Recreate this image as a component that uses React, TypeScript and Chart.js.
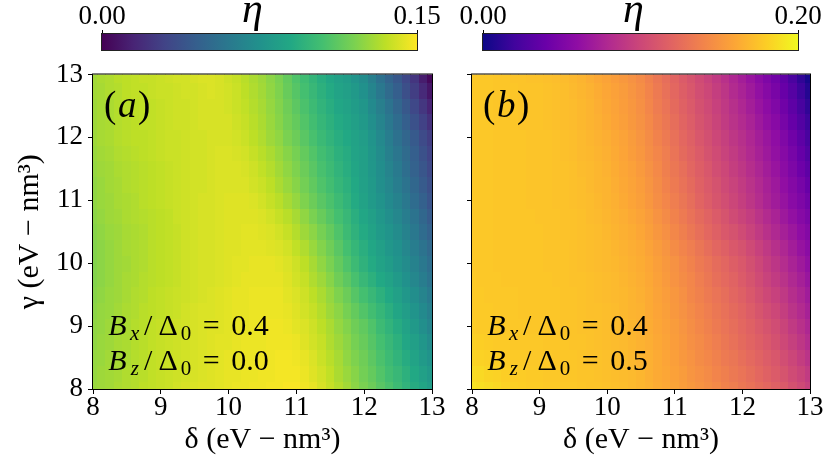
import React, { useEffect, useRef } from "react";
import { Chart, registerables } from "chart.js";

Chart.register(...registerables);

// ---------------- data ----------------
const DELTA = [
  8, 8.125, 8.25, 8.375, 8.5, 8.625, 8.75, 8.875, 9, 9.125, 9.25, 9.375, 9.5, 9.625, 9.75, 9.875,
  10, 10.125, 10.25, 10.375, 10.5, 10.625, 10.75, 10.875, 11, 11.125, 11.25, 11.375, 11.5, 11.625, 11.75, 11.875,
  12, 12.125, 12.25, 12.375, 12.5, 12.625, 12.75, 12.875, 13,
];
const GAMMA = [8, 8.25, 8.5, 8.75, 9, 9.25, 9.5, 9.75, 10, 10.25, 10.5, 10.75, 11, 11.25, 11.5, 11.75, 12, 12.25, 12.5, 12.75, 13];
const AXIS_TICKS = [8, 9, 10, 11, 12, 13];

// eta, panel (a): one row per gamma (8 -> 13), one value per delta (8 -> 13)
const ETA_A = [
  [0.127, 0.128, 0.129, 0.131, 0.132, 0.133, 0.135, 0.136, 0.137, 0.138, 0.140, 0.141, 0.142, 0.143, 0.143, 0.144, 0.145, 0.146, 0.146, 0.147, 0.147, 0.148, 0.148, 0.149, 0.149, 0.147, 0.145, 0.141, 0.137, 0.133, 0.129, 0.124, 0.120, 0.116, 0.111, 0.107, 0.102, 0.097, 0.092, 0.088, 0.083],
  [0.126, 0.128, 0.129, 0.130, 0.132, 0.133, 0.134, 0.136, 0.137, 0.138, 0.139, 0.140, 0.141, 0.142, 0.143, 0.144, 0.145, 0.145, 0.146, 0.146, 0.147, 0.147, 0.148, 0.148, 0.148, 0.146, 0.143, 0.140, 0.136, 0.131, 0.127, 0.123, 0.118, 0.114, 0.109, 0.104, 0.100, 0.095, 0.090, 0.085, 0.080],
  [0.126, 0.127, 0.129, 0.130, 0.131, 0.133, 0.134, 0.136, 0.137, 0.138, 0.139, 0.140, 0.141, 0.142, 0.143, 0.144, 0.145, 0.145, 0.146, 0.146, 0.147, 0.147, 0.148, 0.148, 0.147, 0.145, 0.142, 0.138, 0.134, 0.130, 0.125, 0.121, 0.117, 0.112, 0.107, 0.102, 0.097, 0.092, 0.087, 0.081, 0.076],
  [0.125, 0.127, 0.128, 0.130, 0.131, 0.133, 0.134, 0.136, 0.137, 0.138, 0.139, 0.140, 0.141, 0.142, 0.143, 0.144, 0.144, 0.145, 0.146, 0.146, 0.146, 0.147, 0.147, 0.147, 0.146, 0.143, 0.140, 0.137, 0.132, 0.128, 0.124, 0.119, 0.115, 0.110, 0.105, 0.100, 0.095, 0.089, 0.084, 0.078, 0.072],
  [0.125, 0.126, 0.128, 0.130, 0.131, 0.133, 0.134, 0.136, 0.137, 0.138, 0.139, 0.140, 0.141, 0.142, 0.143, 0.143, 0.144, 0.145, 0.145, 0.146, 0.146, 0.147, 0.147, 0.146, 0.144, 0.142, 0.139, 0.135, 0.131, 0.126, 0.122, 0.117, 0.113, 0.108, 0.102, 0.097, 0.092, 0.086, 0.080, 0.074, 0.068],
  [0.124, 0.126, 0.127, 0.129, 0.131, 0.132, 0.134, 0.135, 0.136, 0.137, 0.138, 0.140, 0.141, 0.142, 0.142, 0.143, 0.144, 0.145, 0.145, 0.146, 0.146, 0.146, 0.146, 0.145, 0.143, 0.140, 0.137, 0.133, 0.128, 0.124, 0.119, 0.114, 0.109, 0.104, 0.099, 0.094, 0.088, 0.083, 0.077, 0.071, 0.065],
  [0.123, 0.125, 0.127, 0.128, 0.130, 0.132, 0.133, 0.135, 0.136, 0.137, 0.138, 0.139, 0.140, 0.141, 0.142, 0.143, 0.144, 0.145, 0.145, 0.146, 0.146, 0.146, 0.146, 0.144, 0.142, 0.139, 0.135, 0.131, 0.126, 0.121, 0.116, 0.110, 0.105, 0.100, 0.095, 0.090, 0.085, 0.079, 0.073, 0.067, 0.061],
  [0.122, 0.124, 0.126, 0.128, 0.130, 0.131, 0.133, 0.134, 0.135, 0.136, 0.137, 0.139, 0.140, 0.141, 0.141, 0.142, 0.143, 0.144, 0.145, 0.145, 0.145, 0.145, 0.145, 0.143, 0.140, 0.137, 0.132, 0.128, 0.123, 0.117, 0.112, 0.106, 0.100, 0.095, 0.090, 0.086, 0.081, 0.075, 0.069, 0.063, 0.057],
  [0.122, 0.124, 0.126, 0.128, 0.129, 0.131, 0.132, 0.134, 0.135, 0.136, 0.137, 0.139, 0.140, 0.141, 0.141, 0.142, 0.143, 0.144, 0.144, 0.145, 0.145, 0.145, 0.144, 0.142, 0.139, 0.135, 0.130, 0.125, 0.120, 0.114, 0.108, 0.102, 0.096, 0.091, 0.086, 0.082, 0.077, 0.072, 0.066, 0.060, 0.054],
  [0.122, 0.124, 0.126, 0.128, 0.130, 0.131, 0.132, 0.134, 0.135, 0.136, 0.137, 0.139, 0.140, 0.141, 0.141, 0.142, 0.143, 0.143, 0.144, 0.144, 0.144, 0.143, 0.142, 0.140, 0.136, 0.132, 0.127, 0.122, 0.117, 0.111, 0.105, 0.099, 0.094, 0.089, 0.084, 0.079, 0.075, 0.069, 0.063, 0.057, 0.051],
  [0.123, 0.125, 0.127, 0.128, 0.130, 0.131, 0.132, 0.134, 0.135, 0.136, 0.137, 0.139, 0.140, 0.141, 0.141, 0.142, 0.143, 0.143, 0.144, 0.144, 0.143, 0.142, 0.140, 0.137, 0.133, 0.128, 0.124, 0.119, 0.114, 0.108, 0.102, 0.096, 0.091, 0.086, 0.081, 0.077, 0.072, 0.066, 0.060, 0.053, 0.047],
  [0.124, 0.126, 0.128, 0.129, 0.131, 0.132, 0.133, 0.134, 0.135, 0.136, 0.138, 0.139, 0.140, 0.141, 0.141, 0.142, 0.143, 0.143, 0.143, 0.143, 0.142, 0.140, 0.137, 0.134, 0.130, 0.125, 0.120, 0.115, 0.110, 0.105, 0.100, 0.094, 0.089, 0.084, 0.079, 0.074, 0.069, 0.063, 0.057, 0.050, 0.043],
  [0.125, 0.127, 0.128, 0.130, 0.131, 0.132, 0.134, 0.135, 0.136, 0.137, 0.138, 0.139, 0.140, 0.141, 0.141, 0.142, 0.143, 0.143, 0.143, 0.142, 0.140, 0.137, 0.134, 0.130, 0.126, 0.121, 0.116, 0.111, 0.107, 0.102, 0.097, 0.091, 0.086, 0.081, 0.076, 0.071, 0.066, 0.060, 0.053, 0.046, 0.039],
  [0.125, 0.127, 0.129, 0.130, 0.132, 0.133, 0.134, 0.135, 0.136, 0.137, 0.138, 0.139, 0.140, 0.140, 0.141, 0.142, 0.142, 0.142, 0.142, 0.140, 0.138, 0.135, 0.131, 0.127, 0.123, 0.118, 0.113, 0.108, 0.104, 0.099, 0.095, 0.090, 0.085, 0.080, 0.074, 0.069, 0.063, 0.057, 0.050, 0.043, 0.036],
  [0.126, 0.128, 0.129, 0.131, 0.132, 0.133, 0.134, 0.135, 0.136, 0.137, 0.138, 0.139, 0.140, 0.140, 0.141, 0.142, 0.142, 0.142, 0.141, 0.139, 0.136, 0.133, 0.129, 0.125, 0.121, 0.116, 0.111, 0.106, 0.102, 0.097, 0.093, 0.088, 0.084, 0.079, 0.073, 0.067, 0.061, 0.054, 0.047, 0.040, 0.033],
  [0.127, 0.129, 0.130, 0.132, 0.133, 0.134, 0.135, 0.136, 0.137, 0.138, 0.138, 0.139, 0.140, 0.140, 0.141, 0.142, 0.142, 0.141, 0.140, 0.137, 0.134, 0.131, 0.127, 0.123, 0.119, 0.114, 0.109, 0.104, 0.100, 0.095, 0.092, 0.087, 0.084, 0.078, 0.072, 0.065, 0.059, 0.052, 0.045, 0.037, 0.030],
  [0.128, 0.130, 0.131, 0.133, 0.134, 0.135, 0.135, 0.136, 0.137, 0.138, 0.138, 0.139, 0.140, 0.140, 0.141, 0.141, 0.141, 0.140, 0.138, 0.135, 0.132, 0.128, 0.125, 0.120, 0.116, 0.111, 0.106, 0.101, 0.097, 0.093, 0.090, 0.086, 0.083, 0.077, 0.070, 0.063, 0.056, 0.049, 0.042, 0.034, 0.027],
  [0.128, 0.130, 0.131, 0.133, 0.134, 0.135, 0.136, 0.136, 0.137, 0.138, 0.139, 0.139, 0.140, 0.141, 0.141, 0.141, 0.141, 0.139, 0.137, 0.134, 0.131, 0.127, 0.123, 0.118, 0.114, 0.109, 0.104, 0.099, 0.095, 0.091, 0.088, 0.084, 0.080, 0.074, 0.067, 0.060, 0.053, 0.045, 0.037, 0.029, 0.021],
  [0.128, 0.130, 0.131, 0.133, 0.134, 0.135, 0.136, 0.136, 0.137, 0.138, 0.139, 0.139, 0.140, 0.141, 0.141, 0.141, 0.140, 0.138, 0.136, 0.133, 0.130, 0.126, 0.122, 0.117, 0.112, 0.107, 0.102, 0.097, 0.093, 0.089, 0.086, 0.082, 0.078, 0.071, 0.064, 0.057, 0.049, 0.041, 0.032, 0.024, 0.015],
  [0.129, 0.130, 0.132, 0.133, 0.135, 0.136, 0.136, 0.137, 0.138, 0.138, 0.139, 0.140, 0.140, 0.141, 0.142, 0.141, 0.140, 0.138, 0.135, 0.132, 0.129, 0.125, 0.121, 0.115, 0.110, 0.105, 0.100, 0.095, 0.091, 0.087, 0.084, 0.080, 0.075, 0.068, 0.060, 0.052, 0.045, 0.036, 0.027, 0.018, 0.009],
  [0.129, 0.131, 0.132, 0.134, 0.135, 0.136, 0.137, 0.137, 0.138, 0.139, 0.140, 0.140, 0.141, 0.142, 0.142, 0.141, 0.139, 0.137, 0.134, 0.131, 0.128, 0.124, 0.120, 0.114, 0.108, 0.103, 0.098, 0.093, 0.089, 0.085, 0.082, 0.077, 0.072, 0.064, 0.056, 0.048, 0.041, 0.032, 0.023, 0.012, 0.003],
];

// eta, panel (b)
const ETA_B = [
  [0.190, 0.188, 0.186, 0.184, 0.182, 0.181, 0.180, 0.179, 0.179, 0.178, 0.178, 0.177, 0.177, 0.176, 0.175, 0.175, 0.174, 0.173, 0.172, 0.170, 0.168, 0.166, 0.163, 0.161, 0.158, 0.155, 0.152, 0.149, 0.146, 0.143, 0.139, 0.136, 0.132, 0.129, 0.125, 0.122, 0.118, 0.113, 0.107, 0.102, 0.096],
  [0.186, 0.185, 0.183, 0.182, 0.180, 0.179, 0.179, 0.178, 0.178, 0.177, 0.177, 0.176, 0.176, 0.175, 0.175, 0.174, 0.173, 0.172, 0.171, 0.170, 0.168, 0.165, 0.162, 0.160, 0.157, 0.154, 0.150, 0.147, 0.144, 0.140, 0.137, 0.133, 0.130, 0.126, 0.122, 0.118, 0.114, 0.109, 0.103, 0.098, 0.092],
  [0.183, 0.182, 0.181, 0.180, 0.179, 0.178, 0.178, 0.177, 0.177, 0.177, 0.176, 0.176, 0.176, 0.175, 0.174, 0.174, 0.173, 0.172, 0.171, 0.169, 0.167, 0.165, 0.162, 0.159, 0.156, 0.152, 0.149, 0.145, 0.142, 0.138, 0.134, 0.131, 0.127, 0.123, 0.119, 0.115, 0.111, 0.105, 0.099, 0.093, 0.087],
  [0.181, 0.180, 0.179, 0.178, 0.178, 0.177, 0.177, 0.177, 0.177, 0.176, 0.176, 0.176, 0.175, 0.175, 0.174, 0.173, 0.172, 0.171, 0.170, 0.168, 0.166, 0.164, 0.161, 0.158, 0.155, 0.151, 0.147, 0.144, 0.140, 0.136, 0.132, 0.128, 0.124, 0.120, 0.116, 0.112, 0.107, 0.101, 0.095, 0.089, 0.082],
  [0.179, 0.178, 0.178, 0.177, 0.177, 0.177, 0.177, 0.176, 0.176, 0.176, 0.176, 0.175, 0.175, 0.174, 0.174, 0.173, 0.172, 0.171, 0.170, 0.168, 0.166, 0.163, 0.160, 0.157, 0.154, 0.150, 0.146, 0.142, 0.138, 0.134, 0.130, 0.126, 0.122, 0.118, 0.113, 0.109, 0.104, 0.098, 0.091, 0.085, 0.078],
  [0.178, 0.178, 0.178, 0.177, 0.177, 0.177, 0.176, 0.176, 0.176, 0.176, 0.176, 0.175, 0.175, 0.174, 0.173, 0.173, 0.172, 0.171, 0.169, 0.167, 0.166, 0.162, 0.159, 0.156, 0.152, 0.148, 0.144, 0.140, 0.136, 0.132, 0.128, 0.124, 0.120, 0.115, 0.110, 0.105, 0.100, 0.094, 0.087, 0.081, 0.074],
  [0.178, 0.178, 0.177, 0.177, 0.177, 0.177, 0.176, 0.176, 0.176, 0.176, 0.176, 0.175, 0.175, 0.174, 0.173, 0.172, 0.171, 0.170, 0.169, 0.167, 0.165, 0.162, 0.158, 0.155, 0.151, 0.147, 0.142, 0.138, 0.134, 0.130, 0.126, 0.121, 0.117, 0.112, 0.106, 0.101, 0.096, 0.090, 0.083, 0.077, 0.070],
  [0.178, 0.177, 0.177, 0.177, 0.176, 0.176, 0.176, 0.176, 0.176, 0.176, 0.175, 0.175, 0.174, 0.174, 0.173, 0.172, 0.171, 0.170, 0.168, 0.166, 0.164, 0.161, 0.157, 0.153, 0.149, 0.145, 0.141, 0.136, 0.132, 0.127, 0.123, 0.119, 0.114, 0.109, 0.103, 0.097, 0.092, 0.086, 0.079, 0.073, 0.066],
  [0.177, 0.177, 0.177, 0.176, 0.176, 0.176, 0.176, 0.176, 0.176, 0.175, 0.175, 0.175, 0.174, 0.173, 0.172, 0.171, 0.170, 0.169, 0.167, 0.165, 0.163, 0.160, 0.156, 0.152, 0.148, 0.143, 0.139, 0.134, 0.130, 0.125, 0.121, 0.116, 0.112, 0.106, 0.100, 0.094, 0.088, 0.082, 0.075, 0.069, 0.062],
  [0.177, 0.177, 0.177, 0.176, 0.176, 0.176, 0.176, 0.176, 0.176, 0.175, 0.175, 0.175, 0.174, 0.173, 0.172, 0.171, 0.170, 0.168, 0.166, 0.164, 0.162, 0.158, 0.154, 0.150, 0.145, 0.140, 0.136, 0.131, 0.126, 0.121, 0.117, 0.112, 0.108, 0.102, 0.096, 0.090, 0.084, 0.078, 0.071, 0.064, 0.058],
  [0.177, 0.177, 0.177, 0.176, 0.176, 0.176, 0.176, 0.176, 0.176, 0.175, 0.175, 0.174, 0.174, 0.173, 0.172, 0.171, 0.169, 0.167, 0.165, 0.163, 0.160, 0.156, 0.151, 0.147, 0.142, 0.137, 0.132, 0.127, 0.122, 0.117, 0.112, 0.108, 0.103, 0.097, 0.091, 0.085, 0.079, 0.073, 0.067, 0.060, 0.054],
  [0.177, 0.177, 0.177, 0.176, 0.176, 0.176, 0.176, 0.176, 0.175, 0.175, 0.175, 0.174, 0.174, 0.173, 0.171, 0.170, 0.168, 0.166, 0.164, 0.161, 0.158, 0.154, 0.149, 0.144, 0.139, 0.134, 0.129, 0.124, 0.119, 0.114, 0.109, 0.103, 0.098, 0.093, 0.087, 0.081, 0.075, 0.068, 0.062, 0.055, 0.049],
  [0.177, 0.177, 0.177, 0.176, 0.176, 0.176, 0.176, 0.175, 0.175, 0.175, 0.174, 0.174, 0.173, 0.172, 0.171, 0.169, 0.167, 0.165, 0.162, 0.159, 0.156, 0.151, 0.146, 0.141, 0.136, 0.131, 0.126, 0.120, 0.115, 0.110, 0.105, 0.099, 0.094, 0.088, 0.082, 0.076, 0.070, 0.064, 0.057, 0.051, 0.044],
  [0.177, 0.177, 0.177, 0.176, 0.176, 0.176, 0.176, 0.175, 0.175, 0.175, 0.174, 0.174, 0.173, 0.172, 0.170, 0.168, 0.167, 0.164, 0.161, 0.158, 0.155, 0.150, 0.145, 0.139, 0.134, 0.129, 0.124, 0.118, 0.113, 0.108, 0.102, 0.097, 0.092, 0.086, 0.080, 0.074, 0.068, 0.061, 0.054, 0.047, 0.039],
  [0.177, 0.177, 0.177, 0.176, 0.176, 0.176, 0.176, 0.175, 0.175, 0.175, 0.174, 0.174, 0.173, 0.171, 0.170, 0.168, 0.166, 0.163, 0.160, 0.157, 0.153, 0.148, 0.143, 0.137, 0.132, 0.127, 0.121, 0.116, 0.111, 0.105, 0.100, 0.094, 0.089, 0.083, 0.077, 0.071, 0.065, 0.058, 0.050, 0.042, 0.034],
  [0.177, 0.177, 0.177, 0.176, 0.176, 0.176, 0.176, 0.175, 0.175, 0.175, 0.174, 0.173, 0.172, 0.170, 0.169, 0.167, 0.165, 0.162, 0.159, 0.155, 0.151, 0.146, 0.141, 0.136, 0.130, 0.124, 0.119, 0.114, 0.108, 0.103, 0.097, 0.092, 0.086, 0.080, 0.074, 0.068, 0.062, 0.055, 0.047, 0.038, 0.029],
  [0.177, 0.177, 0.177, 0.176, 0.176, 0.176, 0.176, 0.175, 0.175, 0.175, 0.174, 0.173, 0.172, 0.170, 0.168, 0.166, 0.164, 0.161, 0.158, 0.154, 0.150, 0.145, 0.139, 0.134, 0.128, 0.122, 0.117, 0.111, 0.106, 0.100, 0.095, 0.089, 0.084, 0.078, 0.072, 0.066, 0.060, 0.052, 0.043, 0.034, 0.024],
  [0.177, 0.177, 0.177, 0.176, 0.176, 0.176, 0.175, 0.175, 0.175, 0.174, 0.173, 0.172, 0.171, 0.169, 0.167, 0.165, 0.162, 0.159, 0.156, 0.152, 0.148, 0.143, 0.137, 0.132, 0.126, 0.120, 0.115, 0.109, 0.104, 0.098, 0.092, 0.086, 0.081, 0.075, 0.068, 0.062, 0.056, 0.047, 0.038, 0.029, 0.019],
  [0.177, 0.177, 0.177, 0.176, 0.176, 0.176, 0.175, 0.175, 0.175, 0.174, 0.173, 0.172, 0.171, 0.169, 0.167, 0.164, 0.161, 0.158, 0.155, 0.151, 0.147, 0.141, 0.135, 0.130, 0.124, 0.118, 0.113, 0.107, 0.102, 0.096, 0.090, 0.084, 0.078, 0.072, 0.065, 0.059, 0.052, 0.043, 0.034, 0.024, 0.014],
  [0.177, 0.177, 0.177, 0.176, 0.176, 0.176, 0.175, 0.175, 0.175, 0.174, 0.173, 0.172, 0.170, 0.168, 0.166, 0.163, 0.160, 0.157, 0.154, 0.150, 0.146, 0.140, 0.134, 0.128, 0.122, 0.116, 0.111, 0.105, 0.100, 0.094, 0.088, 0.081, 0.075, 0.069, 0.062, 0.055, 0.048, 0.039, 0.030, 0.019, 0.009],
  [0.177, 0.177, 0.177, 0.176, 0.176, 0.175, 0.175, 0.174, 0.174, 0.173, 0.172, 0.171, 0.169, 0.167, 0.164, 0.161, 0.158, 0.155, 0.152, 0.148, 0.144, 0.138, 0.132, 0.126, 0.120, 0.114, 0.109, 0.103, 0.097, 0.091, 0.085, 0.078, 0.072, 0.065, 0.058, 0.051, 0.044, 0.035, 0.025, 0.014, 0.004],
];

const ETA_RANGE_A = [0, 0.15];
const ETA_RANGE_B = [0, 0.2];
const PANEL_NAMES = ["a", "b"];
const BX_VALUES = [0.4, 0.4];
const BZ_VALUES = [0.0, 0.5];

// ---------------- styles ----------------
const SERIF = '"Liberation Serif", "DejaVu Serif", serif';
const VIRIDIS = ["#440154", "#482475", "#414487", "#355f8d", "#2a788e", "#21918c", "#22a884", "#44bf70", "#7ad151", "#bddf26", "#fde725"];
const PLASMA = ["#0d0887", "#41049d", "#6a00a8", "#8f0da4", "#b12a90", "#cc4778", "#e16462", "#f2844b", "#fca636", "#fcce25", "#f0f921"];

function hexRgb(h: string) {
  return [parseInt(h.slice(1, 3), 16), parseInt(h.slice(3, 5), 16), parseInt(h.slice(5, 7), 16)];
}
function colormap(stops: string[], t: number) {
  const tt = Math.max(0, Math.min(1, t));
  const n = stops.length - 1;
  const f = tt * n;
  const i = Math.min(Math.floor(f), n - 1);
  const u = f - i;
  const a = hexRgb(stops[i]);
  const b = hexRgb(stops[i + 1]);
  const c = a.map((v, k) => Math.round(v + (b[k] - v) * u));
  return `rgb(${c[0]},${c[1]},${c[2]})`;
}

function cellBounds(vals: number[], lo: number, hi: number) {
  return vals.map((v, i) => [
    i === 0 ? lo : (vals[i - 1] + v) / 2,
    i === vals.length - 1 ? hi : (v + vals[i + 1]) / 2,
  ]);
}

function buildPoints(grid: number[][]) {
  const lo = AXIS_TICKS[0];
  const hi = AXIS_TICKS[AXIS_TICKS.length - 1];
  const xb = cellBounds(DELTA, lo, hi);
  const yb = cellBounds(GAMMA, lo, hi);
  const pts: any[] = [];
  GAMMA.forEach((g, j) => {
    DELTA.forEach((d, i) => {
      pts.push({ x: d, y: g, v: grid[j][i], x0: xb[i][0], x1: xb[i][1], y0: yb[j][0], y1: yb[j][1] });
    });
  });
  return pts;
}

type Run = { t?: string; it?: boolean; sub?: boolean; adv?: number; gap?: number };
function drawRuns(ctx: CanvasRenderingContext2D, x: number, y: number, runs: Run[], size: number) {
  let cx = x;
  for (const r of runs) {
    if (!r.t) {
      cx += (r.gap || 0) * size;
      continue;
    }
    const s = r.sub ? size * 0.7 : size;
    ctx.font = `${r.it ? "italic " : ""}${s}px ${SERIF}`;
    const w = ctx.measureText(r.t).width;
    const a = r.adv ? Math.max(w, r.adv * s) : w;
    ctx.fillText(r.t, cx + (a - w) / 2, r.sub ? y + size * 0.17 : y);
    cx += a;
  }
}

function heatmapPlugin(stops: string[], range: number[]) {
  return {
    id: "heatmap",
    beforeDatasetsDraw(chart: any) {
      const { ctx, chartArea, scales } = chart;
      const xs = scales.x;
      const ys = scales.y;
      ctx.save();
      ctx.beginPath();
      ctx.rect(chartArea.left, chartArea.top, chartArea.right - chartArea.left, chartArea.bottom - chartArea.top);
      ctx.clip();
      for (const p of chart.data.datasets[0].data) {
        const x0 = Math.floor(xs.getPixelForValue(p.x0));
        const x1 = Math.ceil(xs.getPixelForValue(p.x1));
        const y0 = Math.floor(ys.getPixelForValue(p.y1));
        const y1 = Math.ceil(ys.getPixelForValue(p.y0));
        ctx.fillStyle = colormap(stops, (p.v - range[0]) / (range[1] - range[0]));
        ctx.fillRect(x0, y0, x1 - x0, y1 - y0);
      }
      ctx.restore();
    },
  };
}

const framePlugin = {
  id: "frame",
  afterDatasetsDraw(chart: any) {
    const { ctx, chartArea } = chart;
    ctx.save();
    ctx.strokeStyle = "#000";
    ctx.lineWidth = 1;
    ctx.strokeRect(chartArea.left - 0.5, chartArea.top - 0.5, chartArea.right - chartArea.left + 1, chartArea.bottom - chartArea.top + 1);
    ctx.restore();
  },
};

function bRuns(comp: string, val: number): Run[] {
  return [
    { t: "B", it: true, adv: 0.76 },
    { t: comp, it: true, sub: true, adv: 0.57 },
    { t: "/", adv: 0.5 },
    { t: "Δ", adv: 0.833 },
    { t: "0", sub: true, adv: 0.5 },
    { gap: 0.278 },
    { t: "=", adv: 0.778 },
    { gap: 0.278 },
    { t: val.toFixed(1) },
  ];
}

function annotPlugin(idx: number) {
  return {
    id: "annot",
    afterDatasetsDraw(chart: any) {
      const { ctx, chartArea } = chart;
      ctx.save();
      ctx.fillStyle = "#000";
      ctx.textBaseline = "alphabetic";
      ctx.textAlign = "left";
      drawRuns(ctx, chartArea.left + 10, chartArea.top + 42, [
        { t: "(", adv: 0.389 },
        { t: PANEL_NAMES[idx], it: true, adv: 0.529 },
        { t: ")", adv: 0.389 },
      ], 37);
      drawRuns(ctx, chartArea.left + 13, chartArea.bottom - 54, bRuns("x", BX_VALUES[idx]), 30);
      drawRuns(ctx, chartArea.left + 13, chartArea.bottom - 19, bRuns("z", BZ_VALUES[idx]), 30);
      ctx.restore();
    },
  };
}

function colorbarPlugin(stops: string[], range: number[]) {
  return {
    id: "colorbar",
    beforeDatasetsDraw(chart: any) {
      const { ctx, chartArea } = chart;
      const xs = chart.scales.x;
      const { left, right, top, bottom } = chartArea;
      const g = ctx.createLinearGradient(xs.getPixelForValue(range[0]), 0, xs.getPixelForValue(range[1]), 0);
      stops.forEach((c, i) => g.addColorStop(i / (stops.length - 1), c));
      ctx.save();
      ctx.fillStyle = g;
      ctx.fillRect(left, top, right - left, bottom - top);
      ctx.strokeStyle = "#222";
      ctx.lineWidth = 1;
      ctx.strokeRect(left - 0.5, top - 0.5, right - left + 1, bottom - top + 1);
      ctx.fillStyle = "#000";
      ctx.textAlign = "center";
      ctx.textBaseline = "alphabetic";
      ctx.font = `italic 42px ${SERIF}`;
      ctx.fillText("η", (left + right) / 2 - 7, 22);
      ctx.restore();
    },
  };
}

const tickFont = { family: SERIF, size: 27, lineHeight: 1 };
const titleFont = { family: SERIF, size: 30, lineHeight: 1.2 };

function heatmapConfig(idx: number): any {
  const grid = idx === 0 ? ETA_A : ETA_B;
  const stops = idx === 0 ? VIRIDIS : PLASMA;
  const range = idx === 0 ? ETA_RANGE_A : ETA_RANGE_B;
  const yWidth = idx === 0 ? 93 : 22;
  const setTicks = (s: any) => {
    s.ticks = AXIS_TICKS.map((v) => ({ value: v }));
  };
  return {
    type: "scatter",
    data: { datasets: [{ data: buildPoints(grid), pointRadius: 0, pointHoverRadius: 0 }] },
    options: {
      responsive: false,
      animation: false,
      events: [],
      layout: { padding: { left: 0, right: idx === 0 ? 18 : 21, top: 17, bottom: 0 } },
      plugins: { legend: { display: false }, tooltip: { enabled: false } },
      scales: {
        x: {
          type: "linear",
          min: AXIS_TICKS[0],
          max: AXIS_TICKS[AXIS_TICKS.length - 1],
          afterBuildTicks: setTicks,
          afterFit: (s: any) => {
            s.height = 73;
          },
          grid: { drawOnChartArea: false, drawTicks: true, tickLength: 5, color: "#000", lineWidth: 1 },
          border: { display: false },
          ticks: { font: tickFont, color: "#000", padding: 0, maxRotation: 0, autoSkip: false, callback: (v: any) => String(v) },
          title: { display: true, text: "δ (eV − nm³)", font: titleFont, color: "#000", padding: { top: 0, bottom: 4 } },
        },
        y: {
          type: "linear",
          min: AXIS_TICKS[0],
          max: AXIS_TICKS[AXIS_TICKS.length - 1],
          afterBuildTicks: setTicks,
          afterFit: (s: any) => {
            s.width = yWidth;
          },
          grid: { drawOnChartArea: false, drawTicks: true, tickLength: 5, color: "#000", lineWidth: 1 },
          border: { display: false },
          ticks: { font: tickFont, color: "#000", padding: 5, autoSkip: false, callback: (v: any) => (idx === 0 ? String(v) : "") },
          title: { display: idx === 0, text: "γ (eV − nm³)", font: titleFont, color: "#000", padding: { top: 12, bottom: 0 } },
        },
      },
    },
    plugins: [heatmapPlugin(stops, range), framePlugin, annotPlugin(idx)],
  };
}

function colorbarConfig(idx: number): any {
  const stops = idx === 0 ? VIRIDIS : PLASMA;
  const range = idx === 0 ? ETA_RANGE_A : ETA_RANGE_B;
  return {
    type: "scatter",
    data: { datasets: [{ data: [], pointRadius: 0 }] },
    options: {
      responsive: false,
      animation: false,
      events: [],
      layout: { padding: { left: idx === 0 ? 42 : 43, right: idx === 0 ? 43 : 33, top: 0, bottom: 2 } },
      plugins: { legend: { display: false }, tooltip: { enabled: false } },
      scales: {
        x: {
          type: "linear",
          position: "top",
          min: range[0],
          max: range[1],
          afterBuildTicks: (s: any) => {
            s.ticks = range.map((v) => ({ value: v }));
          },
          afterFit: (s: any) => {
            s.height = 34;
          },
          grid: { drawOnChartArea: false, drawTicks: true, tickLength: 4, color: "#000", lineWidth: 1 },
          border: { display: false },
          ticks: { font: tickFont, color: "#000", padding: 0, maxRotation: 0, autoSkip: false, callback: (v: any) => Number(v).toFixed(2) },
        },
        y: { display: false, min: 0, max: 1 },
      },
    },
    plugins: [colorbarPlugin(stops, range)],
  };
}

function ChartCanvas({ config, left, top, width, height }: { config: any; left: number; top: number; width: number; height: number }) {
  const ref = useRef<HTMLCanvasElement | null>(null);
  useEffect(() => {
    if (!ref.current) return;
    const chart = new Chart(ref.current, config);
    return () => chart.destroy();
  }, []);
  return (
    <canvas
      ref={ref}
      width={width}
      height={height}
      style={{ position: "absolute", left, top, width, height, display: "block" }}
    />
  );
}

export default function App() {
  return (
    <div style={{ position: "absolute", left: 0, top: 0, width: 831, height: 462, background: "#fff", overflow: "hidden" }}>
      <ChartCanvas config={colorbarConfig(0)} left={60} top={0} width={400} height={52} />
      <ChartCanvas config={colorbarConfig(1)} left={440} top={0} width={391} height={52} />
      <ChartCanvas config={heatmapConfig(0)} left={0} top={56} width={450} height={406} />
      <ChartCanvas config={heatmapConfig(1)} left={450} top={56} width={381} height={406} />
    </div>
  );
}
